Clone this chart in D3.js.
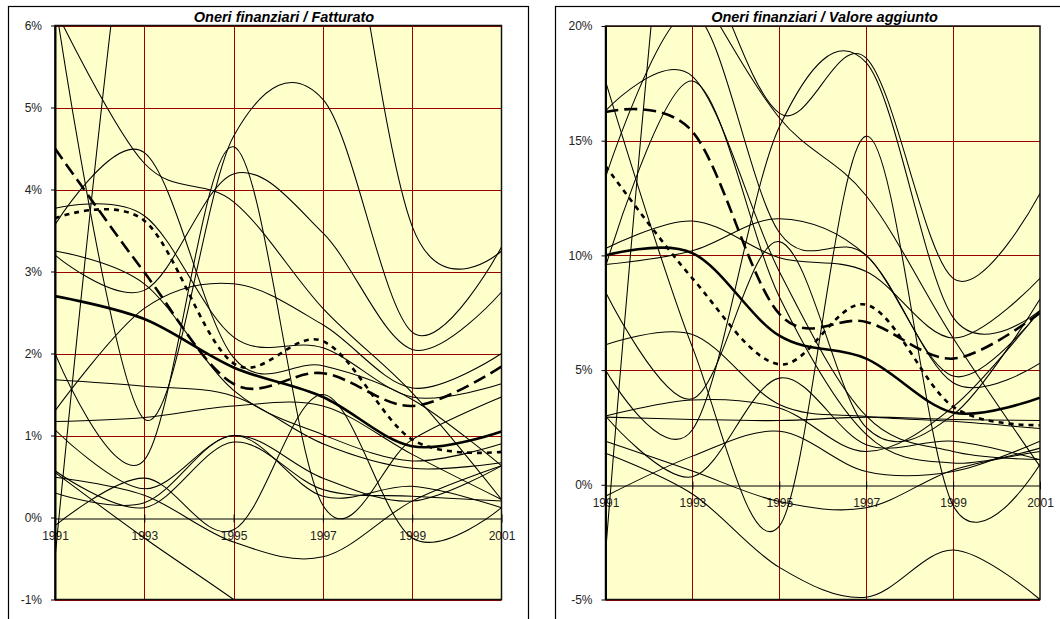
<!DOCTYPE html>
<html>
<head>
<meta charset="utf-8">
<script src="https://cdn.jsdelivr.net/npm/d3@7"></script>
<style>
  body { margin: 0; background: #fff; }
  svg { display: block; font-family: "Liberation Sans", Arial, sans-serif; }
</style>
</head>
<body>
<svg id="chart" width="1060" height="619"></svg>
<script>
// Years with observations and the labels shown on the category axis
const years = [1991, 1993, 1995, 1997, 1999, 2001];
const yearLabels = ["1991", "1993", "1995", "1997", "1999", "2001"];

// ---- Oneri finanziari / Fatturato (values in %) ----
const fattTicks = [-1, 0, 1, 2, 3, 4, 5, 6];
const fattMain = [2.7, 2.42, 1.83, 1.47, 0.87, 1.05];
const fattDash = [4.5, 2.99, 1.63, 1.76, 1.36, 1.84];
const fattDot  = [3.65, 3.62, 1.88, 2.15, 0.95, 0.8];
const fattFirms = [
  [6.2, 4.32, 3.85, 2.55, 1.52, 0.22],
  [6.3, 1.2, 4.65, 5.1, 2.26, 3.3],
  [9.0, 11.0, 11.0, 9.0, 3.55, 3.25],
  [-0.5, 9.0, 11.0, 11.0, 11.0, 11.0],
  [3.57, 4.45, 1.95, 1.85, 1.44, 0.63],
  [3.2, 2.77, 4.19, 3.47, 2.05, 2.75],
  [3.77, 3.68, 2.2, 2.07, 1.47, 1.63],
  [2.0, 0.7, 4.52, 0.15, 0.95, 1.47],
  [1.3, 2.55, 2.85, 2.35, 1.58, 2.0],
  [3.25, 2.85, 1.55, 1.01, 0.69, 0.9],
  [1.68, 1.6, 1.48, 0.9, 0.6, 0.67],
  [1.17, 1.22, 1.36, 1.36, 0.77, 0.22],
  [1.07, 0.35, 1.0, 0.48, 0.2, 0.63],
  [0.57, 0.12, 0.92, 0.34, 0.26, 0.2],
  [0.3, 0.18, 1.0, 0.26, 0.38, 0.12],
  [-0.1, 0.48, -0.15, 1.5, -0.25, 0.12],
  [0.49, 0.27, -0.3, -0.48, 0.2, 0.63],
  [0.55, -0.25, -1.0, -1.8, -2.5, -3.0]
];

// ---- Oneri finanziari / Valore aggiunto (values in %) ----
const vaTicks = [-5, 0, 5, 10, 15, 20];
const vaMain = [10.0, 10.1, 6.5, 5.5, 3.15, 3.8];
const vaDash = [16.25, 15.4, 7.45, 7.1, 5.5, 7.5];
const vaDot  = [13.9, 9.0, 5.25, 7.85, 3.4, 2.6];
const vaFirms = [
  [-3.0, 36, 40, 40, 40, 40],
  [1.38, -0.4, -3.6, -4.9, -2.84, -5.0],
  [17.6, 6.0, -1.8, 15.2, -0.9, 0.9],
  [30, 24, 16.2, 18.6, 9.0, 12.7],
  [5.0, 2.4, 15.6, 18.4, 7.3, 7.6],
  [16.3, 17.8, 9.3, 3.0, 1.45, 1.1],
  [9.5, 17.6, 8.2, 2.2, 0.95, 1.6],
  [28, 22, 16.0, 12.6, 6.4, 0.8],
  [13.4, 20.6, 11.0, 10.0, 4.45, 5.3],
  [10.3, 11.5, 9.9, 9.3, 6.4, 9.0],
  [9.6, 10.2, 11.6, 10.0, 4.74, 7.6],
  [8.4, 3.75, 10.6, 2.5, 3.05, 8.1],
  [6.1, 6.55, 3.5, 2.98, 2.77, 2.45],
  [3.0, 3.7, 3.35, 1.45, 3.4, 7.6],
  [2.95, 2.85, 2.8, 2.95, 2.85, 2.8],
  [3.0, 0.35, 4.65, 1.75, 1.9, 1.09],
  [-0.5, 1.25, 2.33, 0.58, 0.58, 1.9],
  [1.9, 0.6, -0.73, -1.0, 0.65, 1.45]
];

const svg = d3.select("#chart");

function drawPanel(cfg) {
  const g = svg.append("g");
  const x = d3.scaleLinear().domain([years[0], years[years.length - 1]]).range([cfg.left, cfg.right]);
  const y = d3.scaleLinear().domain([cfg.ticks[0], cfg.ticks[cfg.ticks.length - 1]]).range([cfg.bottom, cfg.top]);

  // chart area frame
  g.append("rect")
    .attr("x", cfg.frame[0] + 0.5).attr("y", cfg.frame[1] + 0.5)
    .attr("width", cfg.frame[2]).attr("height", cfg.frame[3])
    .attr("fill", "#fff").attr("stroke", "#000").attr("stroke-width", 1.2);

  // plot area background
  g.append("rect")
    .attr("x", cfg.left).attr("y", cfg.top)
    .attr("width", cfg.right - cfg.left).attr("height", cfg.bottom - cfg.top)
    .attr("fill", "#ffffcc");

  // gridlines
  const grid = g.append("g").attr("stroke", "#990000").attr("stroke-width", 1);
  cfg.ticks.filter(t => t !== 0).forEach(t => {
    grid.append("line")
      .attr("x1", cfg.left).attr("x2", cfg.right)
      .attr("y1", Math.round(y(t)) + 0.5).attr("y2", Math.round(y(t)) + 0.5);
  });
  years.slice(1, -1).forEach(yr => {
    grid.append("line")
      .attr("x1", Math.round(x(yr)) + 0.5).attr("x2", Math.round(x(yr)) + 0.5)
      .attr("y1", cfg.top).attr("y2", cfg.bottom);
  });

  // category axis on the zero line
  const y0 = Math.round(y(0)) + 0.5;
  const xAxis = g.append("g")
    .attr("transform", `translate(0,${y0})`)
    .call(d3.axisBottom(x).tickValues(years)
      .tickFormat((d, i) => yearLabels[i])
      .tickSizeInner(4).tickSizeOuter(0).tickPadding(9));
  xAxis.select(".domain").attr("stroke", "#000").attr("stroke-width", 1.2);
  xAxis.selectAll(".tick line").attr("y1", -4).attr("y2", 4).attr("stroke", "#000");
  xAxis.selectAll(".tick text")
    .attr("font-size", 12).attr("fill", "#222")
    .attr("font-family", "'Liberation Sans', Arial, sans-serif");

  // series, clipped to the plot area
  const clipId = "clip-" + cfg.id;
  svg.append("clipPath").attr("id", clipId)
    .append("rect")
    .attr("x", cfg.left).attr("y", cfg.top)
    .attr("width", cfg.right - cfg.left).attr("height", cfg.bottom - cfg.top);

  const line = d3.line()
    .x((d, i) => x(years[i]))
    .y(d => y(d))
    .curve(d3.curveCardinal.tension(0));

  const series = g.append("g").attr("clip-path", `url(#${clipId})`).attr("fill", "none");
  cfg.firms.forEach(vals => {
    series.append("path").attr("d", line(vals))
      .attr("stroke", "#000").attr("stroke-width", 1.05);
  });
  series.append("path").attr("d", line(cfg.dot))
    .attr("stroke", "#000").attr("stroke-width", 2.6).attr("stroke-dasharray", "5,5");
  series.append("path").attr("d", line(cfg.dash))
    .attr("stroke", "#000").attr("stroke-width", 2.6).attr("stroke-dasharray", "13,6");
  series.append("path").attr("d", line(cfg.main))
    .attr("stroke", "#000").attr("stroke-width", 2.6);

  // plot area border
  g.append("rect")
    .attr("x", cfg.left).attr("y", cfg.top)
    .attr("width", cfg.right - cfg.left).attr("height", cfg.bottom - cfg.top)
    .attr("fill", "none").attr("stroke", "#111").attr("stroke-width", 1.5);

  // value axis
  const yAxis = g.append("g")
    .attr("transform", `translate(${cfg.left},0)`)
    .call(d3.axisLeft(y).tickValues(cfg.ticks)
      .tickFormat(d => d + "%")
      .tickSizeInner(4).tickSizeOuter(0).tickPadding(9));
  yAxis.select(".domain").attr("stroke", "#000").attr("stroke-width", 2);
  yAxis.selectAll(".tick line").attr("stroke", "#000");
  yAxis.selectAll(".tick text")
    .attr("font-size", 12).attr("fill", "#222")
    .attr("font-family", "'Liberation Sans', Arial, sans-serif");

  // title
  g.append("text")
    .attr("x", cfg.titleX).attr("y", 22)
    .attr("text-anchor", "middle")
    .attr("font-size", 14.5).attr("font-weight", "bold").attr("font-style", "italic")
    .attr("fill", "#000")
    .text(cfg.title);
}

drawPanel({
  id: "fatt",
  title: "Oneri finanziari / Fatturato",
  titleX: 284,
  frame: [8, 6, 520, 700],
  left: 55, right: 501.5, top: 25.5, bottom: 599.5,
  ticks: fattTicks,
  firms: fattFirms, main: fattMain, dash: fattDash, dot: fattDot
});

drawPanel({
  id: "va",
  title: "Oneri finanziari / Valore aggiunto",
  titleX: 824.5,
  frame: [555, 6, 600, 700],
  left: 605.5, right: 1040, top: 26, bottom: 599.5,
  ticks: vaTicks,
  firms: vaFirms, main: vaMain, dash: vaDash, dot: vaDot
});
</script>
</body>
</html>
